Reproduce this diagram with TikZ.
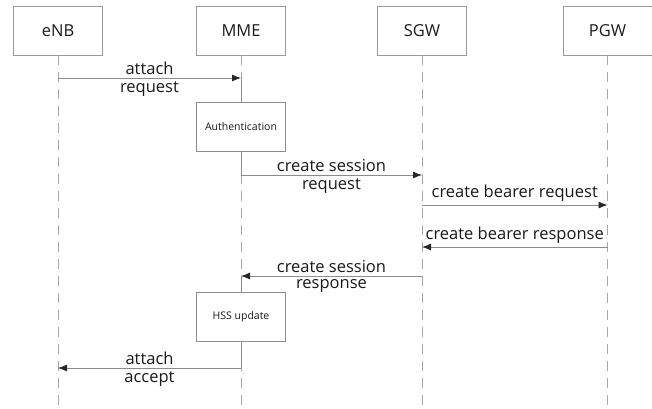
\documentclass[tikz,border=0pt]{standalone}
\usepackage{fontspec}
\setmainfont{Open Sans}
\usepackage{tikz}
\usetikzlibrary{arrows.meta}

\begin{document}
\begin{tikzpicture}%
                [x={(1pt, 0pt)},
                y={(0pt, -1pt)},
                entity/.style={draw=black!40, line width=0.8pt, minimum width=89pt, minimum height=49pt, inner sep=0pt, text=black!90, font=\fontsize{16.5}{18}\selectfont},
                proc/.style={draw=black!45, line width=0.8pt, fill=white, minimum width=89pt, minimum height=49pt, inner sep=0pt, text=black!90, font=\fontsize{10.5}{12}\selectfont},
                life/.style={color=black!35, line width=0.8pt, dash pattern=on 10pt off 7pt},
                active/.style={color=black!45, line width=0.8pt},
                msg/.style={color=black!45, line width=0.8pt, -{Latex[black!85, length=9pt, width=7pt]}},
                lbl/.style={text=black!90, inner sep=3pt, font=\fontsize{16.5}{18}\selectfont}]

            \useasboundingbox (0,0) rectangle (652,408);
            %% Drawing the entities
            \node[entity] (enb) at (58,30.5) {eNB};
            \node[entity] (mme) at (241,30.5) {MME};
            \node[entity] (sgw) at (422,30.5) {SGW};
            \node[entity] (pgw) at (607.5,30.5) {PGW};
            %% Lifelines
            \coordinate (enbend) at (58,408);
            \coordinate (mmeend) at (241,408);
            \coordinate (sgwend) at (422,408);
            \coordinate (pgwend) at (607.5,408);
            \draw[life] (enb.south) -- (enbend);
            \draw[life] (mme.south) -- (mmeend);
            \draw[life] (sgw.south) -- (sgwend);
            \draw[life] (pgw.south) -- (pgwend);
            %%
            %% Points on the lifelines
            %%
            \coordinate (enb1) at (58,78);     \coordinate (mme1) at (241,78);
            \coordinate (mme2) at (241,175);   \coordinate (sgw2) at (422,175);
            \coordinate (sgw3) at (422,205);   \coordinate (pgw3) at (607.5,205);
            \coordinate (pgw4) at (607.5,247); \coordinate (sgw4) at (422,247);
            \coordinate (sgw5) at (422,276);   \coordinate (mme5) at (241,276);
            \coordinate (mme6) at (241,368);   \coordinate (enb6) at (58,368);
            %%
            %% Processing boxes
            %%
            \node[proc] (auth) at (241,127) {Authentication};
            \node[proc] (hss) at (241,316.5) {HSS update};
            \draw[active] (mme1) -- (auth.north);
            \draw[active] (auth.south) -- (mme2);
            \draw[active] (mme5) -- (hss.north);
            \draw[active] (hss.south) -- (mme6);
            %%
            %% Messages
            %%
            \draw[msg] (enb1) -- node[lbl, above] {attach} node[lbl, below] {request} (mme1);
            \draw[msg] (mme2) -- node[lbl, above] {create session} node[lbl, below] {request} (sgw2);
            \draw[msg] (sgw3) -- node[lbl, above] {create bearer request} (pgw3);
            \draw[msg] (pgw4) -- node[lbl, above] {create bearer response} (sgw4);
            \draw[msg] (sgw5) -- node[lbl, above] {create session} node[lbl, below] {response} (mme5);
            \draw[msg] (mme6) -- node[lbl, above] {attach} node[lbl, below] {accept} (enb6);
            %%
            \end{tikzpicture}
\end{document}
